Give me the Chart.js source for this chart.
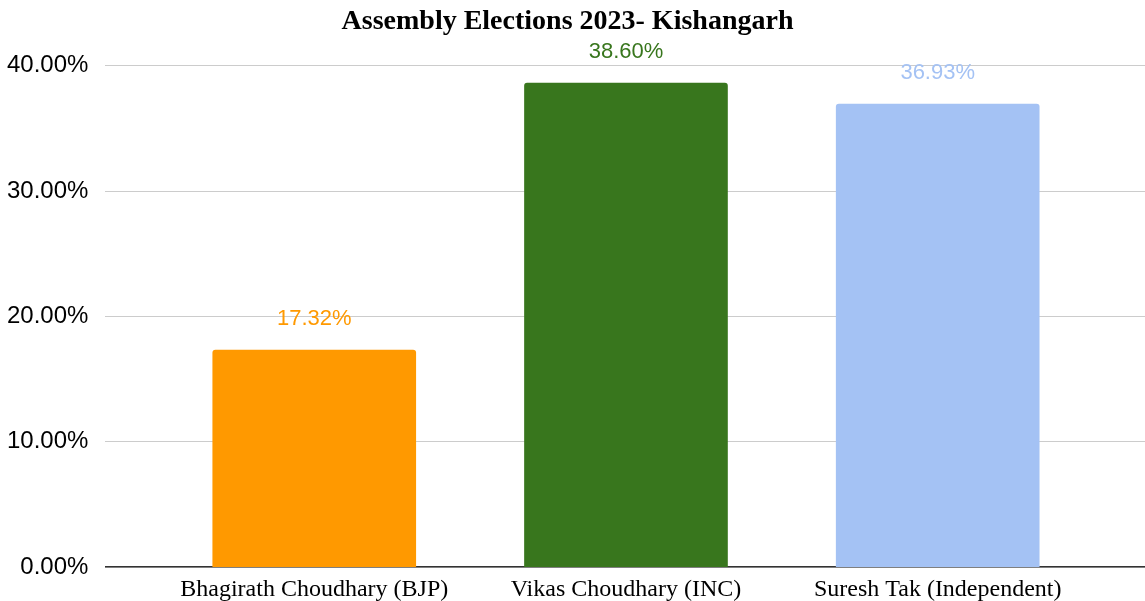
<!DOCTYPE html>
<html>
<head>
<meta charset="utf-8">
<script src="https://cdn.jsdelivr.net/npm/chart.js@4"></script>
<style>
    html, body { margin: 0; padding: 0; background: #fff; }
    #wrap { width: 1145px; height: 601px; }
</style>
</head>
<body>
<div id="wrap"><canvas id="chart"></canvas></div>
<script>
// Chart data
const candidates = ['Bhagirath Choudhary (BJP)', 'Vikas Choudhary (INC)', 'Suresh Tak (Independent)'];
const voteShare = [17.32, 38.60, 36.93];
const barColors = ['#ff9900', '#38761d', '#a4c2f4'];
const yTicks = [0, 10, 20, 30, 40];

// Draw the value above each bar in the bar's colour
const valueLabels = {
    id: 'valueLabels',
    afterDatasetsDraw(chart) {
        const ctx = chart.ctx;
        const meta = chart.getDatasetMeta(0);
        ctx.save();
        ctx.font = '22px "Liberation Sans", Arial, sans-serif';
        ctx.textAlign = 'center';
        ctx.textBaseline = 'middle';
        meta.data.forEach((bar, i) => {
            ctx.fillStyle = barColors[i];
            ctx.fillText(voteShare[i].toFixed(2) + '%', bar.x, bar.y - 31);
        });
        ctx.restore();
    }
};

const ctx = document.getElementById('chart').getContext('2d');
new Chart(ctx, {
    type: 'bar',
    data: {
        datasets: [{
            data: voteShare.map((v, i) => ({ x: i + 1, y: v })),
            backgroundColor: barColors,
            borderRadius: { topLeft: 3, topRight: 3 },
            borderSkipped: 'bottom',
            barThickness: 203
        }]
    },
    options: {
        responsive: true,
        maintainAspectRatio: false,
        animation: false,
        layout: { padding: { left: -10, right: 0, top: 0, bottom: -11 } },
        plugins: {
            legend: { display: false },
            tooltip: { enabled: false },
            title: {
                display: true,
                text: 'Assembly Elections 2023- Kishangarh',
                color: '#000',
                font: { family: '"Liberation Serif", "Times New Roman", serif', size: 28, weight: 'bold' },
                padding: { top: 5, bottom: 27 }
            }
        },
        scales: {
            x: {
                type: 'linear',
                offset: false,
                min: 0.33,
                max: 3.665,
                grid: { display: false, drawTicks: false },
                border: { color: '#333', width: 1.5 },
                ticks: {
                    stepSize: 1,
                    includeBounds: false,
                    autoSkip: false,
                    maxRotation: 0,
                    padding: 8,
                    color: '#000',
                    font: { family: '"Liberation Serif", "Times New Roman", serif', size: 24 },
                    callback: v => Number.isInteger(v) ? candidates[v - 1] || '' : ''
                }
            },
            y: {
                min: yTicks[0],
                max: yTicks[yTicks.length - 1],
                afterBuildTicks: axis => { axis.ticks = yTicks.map(v => ({ value: v })); },
                grid: { color: '#cccccc', lineWidth: 1, drawTicks: false },
                border: { display: false },
                ticks: {
                    padding: 17,
                    color: '#000',
                    font: { family: '"Liberation Sans", Arial, sans-serif', size: 24 },
                    callback: v => v.toFixed(2) + '%'
                }
            }
        }
    },
    plugins: [valueLabels]
});
</script>
</body>
</html>
